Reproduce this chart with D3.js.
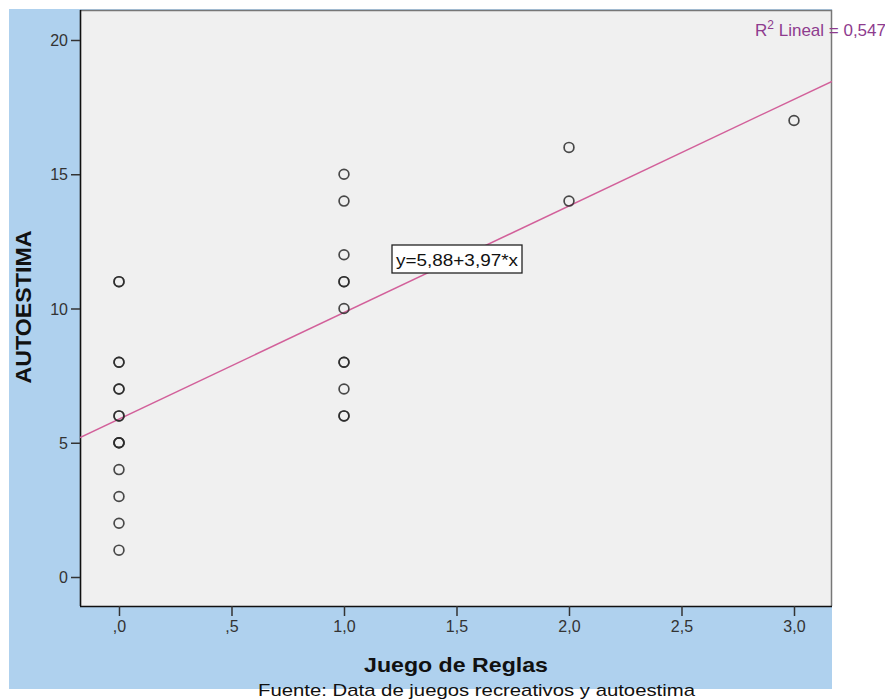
<!DOCTYPE html>
<html><head><meta charset="utf-8">
<script src="https://cdn.jsdelivr.net/npm/d3@7"></script>
<style>body{margin:0;background:#fff}svg{display:block}</style>
</head><body>
<script>
const xTicks = [0, 0.5, 1, 1.5, 2, 2.5, 3];
const xTickLabels = [",0", ",5", "1,0", "1,5", "2,0", "2,5", "3,0"];
const yTicks = [0, 5, 10, 15, 20];
const pointsX = [0,0,0,0,0,0,0,0,0,0,0,0,0,0,0, 1,1,1,1,1,1,1,1,1,1,1, 2,2, 3];
const pointsY = [11,11,8,8,7,7,6,6,5,5,5,4,3,2,1, 15,14,12,11,11,10,8,8,7,6,6, 16,14, 17];
const intercept = 5.88, slope = 3.97;
const eqLabel = "y=5,88+3,97*x";
const r2Label = ["R", "2", " Lineal = 0,547"];

const W = 885, H = 700;
const FONT = "Liberation Sans, Arial, sans-serif";
const svg = d3.select("body").append("svg").attr("width", W).attr("height", H);
svg.append("rect").attr("x", 9).attr("y", 9).attr("width", 823).attr("height", 680).attr("fill", "#AFD1EE");

const L = 80, R = 832, T = 10, B = 606;
const x = d3.scaleLinear().domain([-0.1733, 3.1689]).range([L, R]);
const y = d3.scaleLinear().domain([-1.08, 21.117]).range([B, T]);

svg.append("rect").attr("x", L).attr("y", T).attr("width", R - L).attr("height", B - T).attr("fill", "#F0F0F0");
svg.append("path").attr("d", `M${L},${T+0.5}H${R-0.5}V${B}`).attr("fill", "none").attr("stroke", "#777").attr("stroke-width", 1.5);

const xAxis = svg.append("g").attr("transform", `translate(0,${B})`)
  .call(d3.axisBottom(x).tickValues(xTicks).tickFormat((d, i) => xTickLabels[i]).tickSize(10).tickSizeOuter(0));
const yAxis = svg.append("g").attr("transform", `translate(${L},0)`)
  .call(d3.axisLeft(y).tickValues(yTicks).tickSize(9).tickSizeOuter(0));
[xAxis, yAxis].forEach(a => {
  a.select(".domain").attr("stroke", "#111").attr("stroke-width", 1.6);
  a.selectAll(".tick line").attr("stroke", "#333").attr("stroke-width", 1.5);
  a.selectAll("text").attr("fill", "#333").style("font-family", FONT).style("font-size", "16px");
});
xAxis.select(".domain").attr("d", `M${L},0.5H${R}`);
yAxis.select(".domain").attr("d", `M0.5,${T}V${B}`);
xAxis.selectAll("text").attr("y", 12).attr("dy", "0.9em");
yAxis.selectAll("text").attr("x", -12).attr("dy", "0.35em");

const xd = x.domain();
svg.append("clipPath").attr("id", "c").append("rect").attr("x", L).attr("y", T).attr("width", R - L).attr("height", B - T);
svg.append("line").attr("clip-path", "url(#c)")
  .attr("x1", x(xd[0])).attr("y1", y(intercept + slope * xd[0]))
  .attr("x2", x(xd[1])).attr("y2", y(intercept + slope * xd[1]))
  .attr("stroke", "#D2609A").attr("stroke-width", 1.5);

svg.append("g").selectAll("circle").data(pointsX.map((d, i) => [d, pointsY[i]])).join("circle")
  .attr("cx", d => x(d[0])).attr("cy", d => y(d[1])).attr("r", 4.9)
  .attr("fill", "none").attr("stroke", "#2a2a2a").attr("stroke-width", 1.7).attr("stroke-opacity", 0.85);

const eq = svg.append("g");
eq.append("rect").attr("x", 392).attr("y", 245).attr("width", 130).attr("height", 28).attr("fill", "#fff").attr("stroke", "#222").attr("stroke-width", 1.3);
eq.append("text").attr("x", 396).attr("y", 266).attr("textLength", 122).attr("lengthAdjust", "spacingAndGlyphs")
  .style("font-family", FONT).style("font-size", "17px").attr("fill", "#111").text(eqLabel);

const r2 = svg.append("text").attr("x", 755).attr("y", 36)
  .style("font-family", FONT).style("font-size", "17px").attr("fill", "#8E3B8E");
r2.append("tspan").text(r2Label[0]);
r2.append("tspan").attr("dy", -7).style("font-size", "12px").text(r2Label[1]);
r2.append("tspan").attr("dy", 7).text(r2Label[2]);

svg.append("text").attr("transform", "translate(31,307) rotate(-90)").attr("text-anchor", "middle")
  .attr("textLength", 153).attr("lengthAdjust", "spacingAndGlyphs")
  .style("font-family", FONT).style("font-size", "22px").style("font-weight", "bold").attr("fill", "#111").text("AUTOESTIMA");
svg.append("text").attr("x", 364).attr("y", 672)
  .attr("textLength", 184).attr("lengthAdjust", "spacingAndGlyphs")
  .style("font-family", FONT).style("font-size", "21px").style("font-weight", "bold").attr("fill", "#111").text("Juego de Reglas");
svg.append("text").attr("x", 258).attr("y", 696).attr("textLength", 437).attr("lengthAdjust", "spacingAndGlyphs")
  .style("font-family", FONT).style("font-size", "17px").attr("fill", "#111").text("Fuente: Data de juegos recreativos y autoestima");
</script>
</body></html>
